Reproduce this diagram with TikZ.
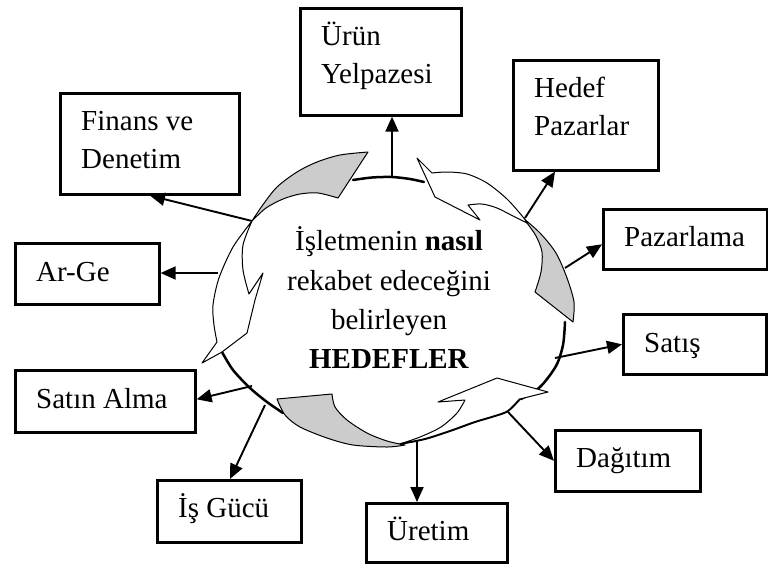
\documentclass[tikz,border=0pt]{standalone}
\usepackage{fontspec}
\setmainfont{Liberation Serif}
\usetikzlibrary{arrows.meta,calc}
\begin{document}
\begin{tikzpicture}[x=1pt,y=-1pt,
  box/.style={draw=black,line width=2.6pt,fill=white,inner sep=0pt,anchor=north west},
  lbl/.style={font=\fontsize{29}{38}\selectfont,inner sep=0pt,anchor=base west},
  ctr/.style={font=\fontsize{29}{38}\selectfont,inner sep=0pt,anchor=base},
  arr/.style={line width=1.9pt,-{Triangle[length=15pt,width=13pt]}},
  grayarr/.style={draw=black,line width=1pt,fill=black!20,line join=round},
  whitearr/.style={draw=black,line width=1pt,fill=white,line join=round},
  ring/.style={line width=2.5pt,line cap=round}]
\useasboundingbox (0,0) rectangle (768,563);
% boxes
\node[box,minimum width=161pt,minimum height=107pt] (urun) at (299,7) {};
\node[box,minimum width=179pt,minimum height=101pt] (fin) at (59,92) {};
\node[box,minimum width=145pt,minimum height=110pt] (hedef) at (512,59) {};
\node[box,minimum width=164pt,minimum height=60pt] (paz) at (602,208) {};
\node[box,minimum width=144pt,minimum height=61pt] (arge) at (14,242) {};
\node[box,minimum width=180pt,minimum height=62pt] (satin) at (14,369) {};
\node[box,minimum width=144pt,minimum height=62pt] (isg) at (156,479) {};
\node[box,minimum width=141pt,minimum height=59pt] (uret) at (365,502) {};
\node[box,minimum width=145pt,minimum height=61pt] (dag) at (554,429) {};
\node[box,minimum width=143pt,minimum height=60pt] (satis) at (622,313) {};
% labels
\node[lbl] (t1) at (321,45) {Ürün};
\node[lbl] (t2) at (321,83) {Yelpazesi};
\node[lbl] (t3) at (81,130) {Finans ve};
\node[lbl] (t4) at (81,168) {Denetim};
\node[lbl] (t5) at (534,97) {Hedef};
\node[lbl] (t6) at (534,135) {Pazarlar};
\node[lbl] (t7) at (624,246) {Pazarlama};
\node[lbl] (t8) at (36,281) {Ar-Ge};
\node[lbl] (t9) at (36,408) {Satın Alma};
\node[lbl] (t10) at (178,517) {İş Gücü};
\node[lbl] (t11) at (387,540) {Üretim};
\node[lbl] (t12) at (576,467) {Dağıtım};
\node[lbl] (t13) at (644,352) {Satış};
% ring segments
\draw[ring] plot[smooth] coordinates {(353,180) (372,177.5) (392,177) (410,179) (424,182)};
\draw[ring] plot[smooth] coordinates {(565,322) (563,345) (556,366) (540,387) (521,399)};
\draw[ring] plot[smooth] coordinates {(222,352) (233,370) (250,388) (267,402) (283,413)};
% circular arrow pieces
\filldraw[whitearr] (252,221) -- plot[smooth] coordinates {(252,221) (233,247) (219,278) (213,305) (214,325) (217,342)} -- (202,363) -- (222,352) -- (247,333) -- (255,300) -- (263,273) -- (249,294) -- plot[smooth] coordinates {(249,294) (243,270) (243,245) (252,221)} -- cycle;
\filldraw[grayarr] (252,221) -- plot[smooth] coordinates {(252,221) (262,206) (277,187) (297,172) (317,162) (340,155) (368,152)} -- (338,198) -- plot[smooth] coordinates {(338,198) (318,193) (300,194) (283,199) (266,208) (252,221)} -- cycle;
\filldraw[grayarr] (523,218) -- plot[smooth] coordinates {(523,218) (540,233) (556,253) (567,278) (574,302) (573,322)} -- (535,292) -- plot[smooth] coordinates {(535,292) (541,272) (542,252) (536,236) (527,223)} -- cycle;
\filldraw[whitearr] (417,158) -- (432,173) -- plot[smooth] coordinates {(432,173) (447,172) (467,174) (487,183) (507,199) (523,217) (527,223)} -- plot[smooth] coordinates {(527,223) (513,216) (497,208) (482,204) (468,205)} -- (480,220) -- (435,197) -- cycle;
\filldraw[grayarr] (277,399) -- (332,394) -- plot[smooth] coordinates {(332,394) (335,407) (347,420) (367,433) (387,441) (405,445)} -- plot[smooth] coordinates {(405,445) (387,447) (353,445) (327,438) (300,427) (285,415) (277,399)} -- cycle;
\filldraw[whitearr] (548,392) -- (497,378) -- (438,402) -- (465,400) -- plot[smooth] coordinates {(465,400) (457,413) (441,427) (420,437) (400,444)} -- plot[smooth] coordinates {(400,444) (425,439) (450,431) (475,422) (495,416) (508,411) (520,399)} -- cycle;
\draw[line width=1.9pt] plot[smooth] coordinates {(400,444) (425,439) (450,431) (475,422) (495,416) (508,411) (520,399)};
% centre text
\node[ctr] (m1) at (389,250) {İşletmenin \textbf{nasıl}};
\node[ctr] (m2) at (389,290) {rekabet edeceğini};
\node[ctr] (m3) at (389,329) {belirleyen};
\node[ctr] (m4) at (389,368) {\textbf{HEDEFLER}};
% connector start points
\coordinate (c1) at (392,177);
\coordinate (c2) at (252,221);
\coordinate (c3) at (218,273);
\coordinate (c4) at (252,386);
\coordinate (c5) at (265,405);
\coordinate (c6) at (417,441);
\coordinate (c7) at (508,412);
\coordinate (c8) at (555,358);
\coordinate (c9) at (565,268);
\coordinate (c10) at (525,218);
% connectors
\draw[arr] (c1) -- (c1 |- urun.south);
\draw[arr] (c2) -- ($(fin.south west)+(91,0)$);
\draw[arr] (c3) -- (c3 -| arge.east);
\draw[arr] (c4) -- ($(satin.east)+(0,-2)$);
\draw[arr] (c5) -- ($(isg.north west)+(74,0)$);
\draw[arr] (c6) -- (c6 |- uret.north);
\draw[arr] (c7) -- (dag.west);
\draw[arr] (c8) -- (satis.west);
\draw[arr] (c9) -- ($(paz.west)+(0,5)$);
\draw[arr] (c10) -- ($(hedef.south west)+(43,0)$);
\end{tikzpicture}
\end{document}
